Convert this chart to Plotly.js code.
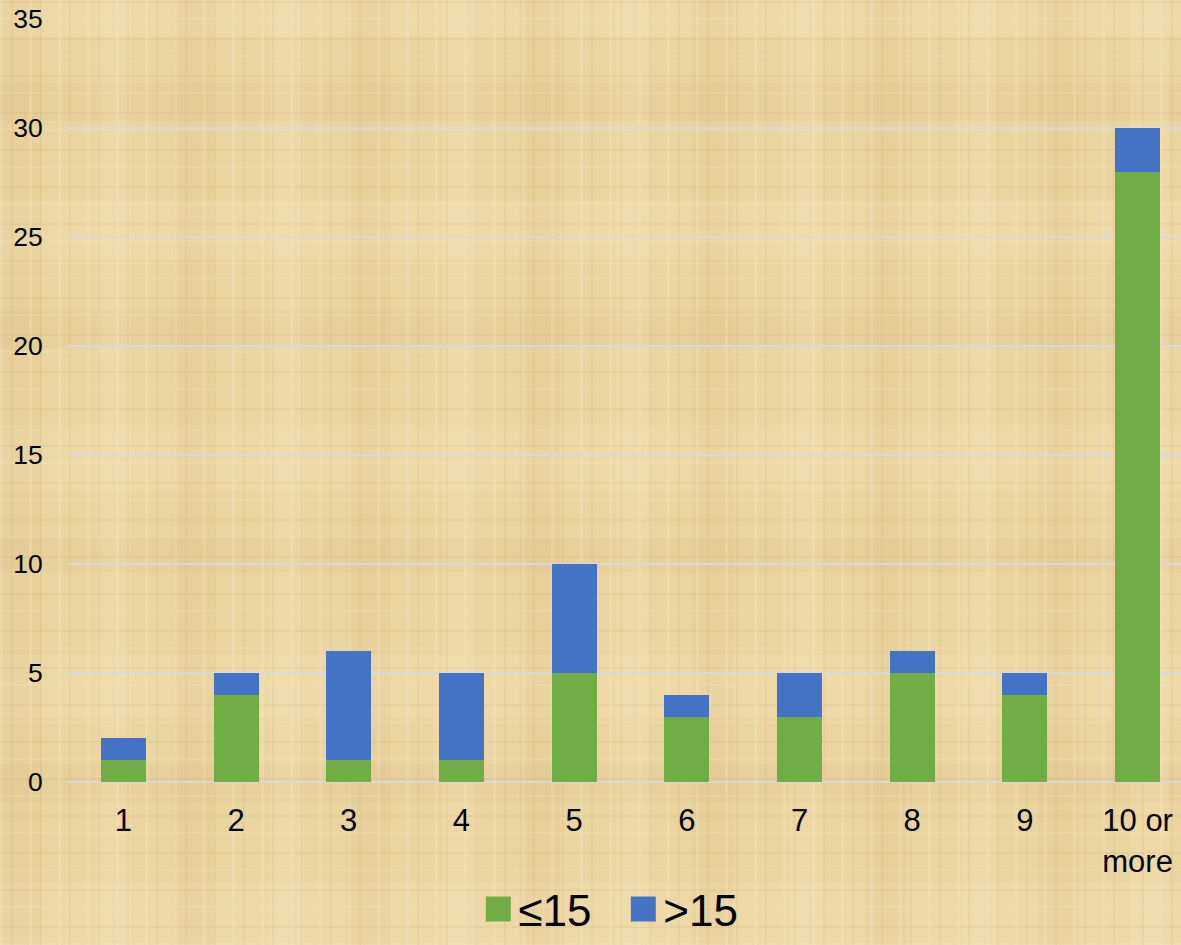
<!DOCTYPE html>
<html>
<head>
<meta charset="utf-8">
<script src="https://cdn.plot.ly/plotly-3.0.1.min.js"></script>
<style>
  html, body { margin: 0; padding: 0; }
  body {
    width: 1181px; height: 945px; overflow: hidden;
    /* papyrus-like fibre texture behind the chart */
    background:
      repeating-linear-gradient(90deg, rgba(255,246,220,0.16) 0 3px, transparent 3px 11px, rgba(185,145,75,0.09) 11px 13px, transparent 13px 29px),
      repeating-linear-gradient(0deg, rgba(255,246,220,0.13) 0 2px, transparent 2px 17px, rgba(175,135,70,0.09) 17px 19px, transparent 19px 37px),
      repeating-linear-gradient(90deg, rgba(200,160,95,0.08) 0 41px, transparent 41px 97px, rgba(255,240,205,0.12) 97px 131px, transparent 131px 173px),
      repeating-linear-gradient(0deg, rgba(255,240,205,0.13) 0 63px, transparent 63px 143px, rgba(195,155,90,0.07) 143px 181px, transparent 181px 227px),
      #EAD4A0;
  }
  #chart { width: 1181px; height: 945px; }
</style>
</head>
<body>
<div id="chart"></div>
<script>
// Number of items per group, split by the ≤15 / >15 classes
var categories = ['1', '2', '3', '4', '5', '6', '7', '8', '9', '10 or<br>more'];
var lowValues  = [1, 4, 1, 1, 5, 3, 3, 5, 4, 28];   // ≤15
var highValues = [1, 1, 5, 4, 5, 1, 2, 1, 1, 2];    // >15
var yTicks = [0, 5, 10, 15, 20, 25, 30, 35];

var font = 'Liberation Sans, Arial, sans-serif';

var traces = [
  {
    type: 'bar', name: '≤15', x: categories, y: lowValues,
    marker: { color: '#70AD47' }, hoverinfo: 'x+y+name'
  },
  {
    type: 'bar', name: '>15', x: categories, y: highValues,
    marker: { color: '#4472C4' }, hoverinfo: 'x+y+name'
  }
];

var layout = {
  width: 1181, height: 945,
  paper_bgcolor: 'rgba(0,0,0,0)',
  plot_bgcolor: 'rgba(0,0,0,0)',
  barmode: 'stack',
  bargap: 0.6,
  margin: { l: 67, r: 0, t: 19, b: 163, autoexpand: false },
  font: { family: font, color: '#000000' },
  xaxis: {
    type: 'category',
    range: [-0.5, 9.385],
    showgrid: false, zeroline: false, showline: false,
    ticks: 'outside', ticklen: 11, tickcolor: 'rgba(0,0,0,0)',
    tickfont: { size: 31, family: font, color: '#000000' }
  },
  yaxis: {
    range: [0, 35],
    tickvals: yTicks,
    showgrid: true, gridcolor: '#D9D9D9', gridwidth: 1.5,
    zeroline: true, zerolinecolor: '#D9D9D9', zerolinewidth: 1.5,
    showline: false,
    ticks: 'outside', ticklen: 18, tickcolor: 'rgba(0,0,0,0)',
    tickfont: { size: 26.5, family: font, color: '#000000' }
  },
  showlegend: true,
  legend: {
    orientation: 'h',
    x: 0.405, xanchor: 'left', xref: 'container',
    y: 0, yanchor: 'bottom', yref: 'container',
    entrywidth: 100,
    font: { size: 44, family: font, color: '#000000' },
    bgcolor: 'rgba(0,0,0,0)',
    traceorder: 'normal'
  }
};

Plotly.newPlot('chart', traces, layout, { displayModeBar: false, staticPlot: true }).then(function (gd) {
  // larger square legend swatches
  gd.querySelectorAll('.legend path.legendbar, .legend path.legendundefined').forEach(function (p) {
    p.setAttribute('d', 'M12.5,12.5H-12.5V-12.5H12.5Z');
  });
});
</script>
</body>
</html>
